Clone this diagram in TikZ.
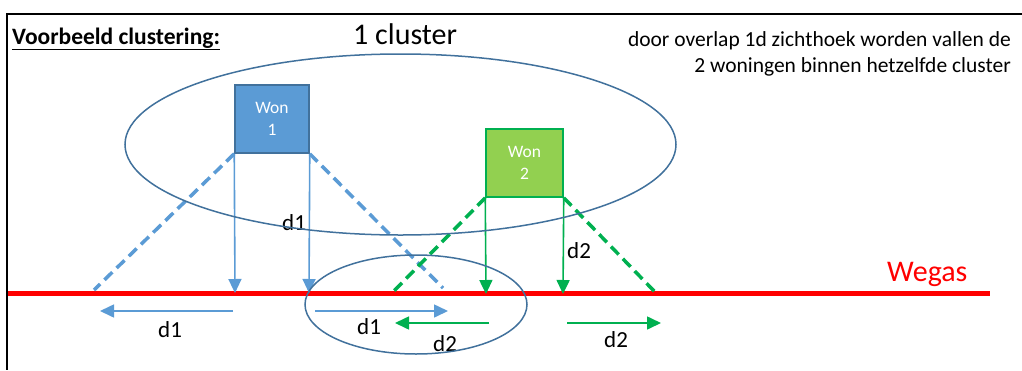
\documentclass[tikz,border=0pt]{standalone}
\usepackage{fontspec}
\setmainfont{Carlito}
\usepackage{xcolor}
\usetikzlibrary{arrows.meta,shapes}
\definecolor{wonblue}{HTML}{5B9BD5}
\definecolor{wonblueline}{HTML}{41719C}
\definecolor{wongreen}{HTML}{92D050}
\definecolor{greenline}{HTML}{00B050}
\definecolor{clusterblue}{HTML}{41719C}
\tikzstyle{won1}		=[rectangle, draw=wonblueline, line width=1.5pt, fill=wonblue, minimum width=74pt, minimum height=68pt, inner sep=0pt, text=white, align=center, font=\fontsize{17.5}{22}\selectfont]
\tikzstyle{won2}		=[rectangle, draw=greenline, line width=1.5pt, fill=wongreen, minimum width=77pt, minimum height=68pt, inner sep=0pt, text=white, align=center, font=\fontsize{17.5}{22}\selectfont]
\tikzstyle{cluster}		=[ellipse, draw=clusterblue, line width=1.5pt, inner sep=0pt]
\tikzstyle{foot}		=[coordinate]
\tikzstyle{txt}			=[anchor=base west, inner sep=0pt]
\tikzstyle{dlab}		=[txt, font=\fontsize{23}{27}\selectfont]
\tikzstyle{road}		=[draw, line width=5pt, red]
\tikzstyle{edgeB}		=[draw, line width=1.6pt, wonblue, -{Triangle[length=14pt,width=13pt]}]
\tikzstyle{edgeG}		=[draw, line width=1.6pt, greenline, -{Triangle[length=14pt,width=13pt]}]
\tikzstyle{sightB}		=[draw, line width=3.5pt, wonblue, dash pattern=on 11pt off 6pt]
\tikzstyle{sightG}		=[draw, line width=3.5pt, greenline, dash pattern=on 11pt off 6pt]
\begin{document}
\begin{tikzpicture}[x=1pt, y=-1pt]
   		\useasboundingbox (0,0) rectangle (1022,370);
   		\draw[line width=2pt] (1022,14) -- (7,14) -- (7,370);
   		
   		%%%%% Texts
   		\node[txt, font=\fontsize{23.5}{27}\selectfont\bfseries] (title) at (12,44) {\underline{Voorbeeld clustering:}};
   		\node[txt, font=\fontsize{30}{34}\selectfont] (clname) at (353,44) {1 cluster};
   		\node[txt, anchor=base east, font=\fontsize{21.5}{26}\selectfont] (note1) at (1011,46) {door overlap 1d zichthoek worden vallen de};
   		\node[txt, anchor=base east, font=\fontsize{21.5}{26}\selectfont] (note2) at (1011,72) {2 woningen binnen hetzelfde cluster};
   		\node[txt, text=red, font=\fontsize{30}{34}\selectfont] (wegas) at (887,281) {Wegas};
   		
   		%%%%% Road
   		\node[foot] (roadW) at (8,293) {};
   		\node[foot] (roadE) at (990,293) {};
   		\path[road] (roadW) -- (roadE);
   		
   		%%%%% Houses
   		\node[won1] (won1) at (272,119) {Won\\1};
   		\node[won2] (won2) at (524.5,163) {Won\\2};
   		
   		%%%% feet on the road
   		\foreach \pos/\name in {{(235,293)/b1}, {(309,293)/b2}, {(94,290)/bd1}, {(443,288)/bd2}}
   		\node[foot] (\name) at \pos {};
   		\foreach \pos/\name in {{(486,294)/g1}, {(563,294)/g2}, {(393,292)/gd1}, {(655,292)/gd2}}
   		\node[foot] (\name) at \pos {};
   		
   		%%%% shifts along the road
   		\foreach \pos/\name in {{(233,311)/bl0}, {(100,311)/bl1}, {(315,311)/br0}, {(448,311)/br1}}
   		\node[foot] (\name) at \pos {};
   		\foreach \pos/\name in {{(489,323)/gl0}, {(395,323)/gl1}, {(567,323)/gr0}, {(661,323)/gr1}}
   		\node[foot] (\name) at \pos {};
   		
   		%%%% Sight lines
   		\foreach \source/ \dest in {won1.south west/bd1, won1.south east/bd2}	\path[sightB] (\source) -- (\dest) ;
   		\foreach \source/ \dest in {won2.south west/gd1, won2.south east/gd2}	\path[sightG] (\source) -- (\dest) ;
   		
   		%%%% Distances
   		\foreach \source/ \dest in {won1.south west/b1, won1.south east/b2, bl0/bl1, br0/br1}	\path[edgeB] (\source) -- (\dest) ;
   		\foreach \source/ \dest in {won2.south west/g1, won2.south east/g2, gl0/gl1, gr0/gr1}	\path[edgeG] (\source) -- (\dest) ;
   		
   		\foreach \pos/\name/\lab in {{(282,230)/lb1/d1}, {(158,337)/lb2/d1}, {(357,334)/lb3/d1}, {(567,258)/lg1/d2}, {(433,351)/lg2/d2}, {(604,347)/lg3/d2}}
   		\node[dlab] (\name) at \pos {\lab};
   		
   		%%%%% Clusters
   		\node[cluster, minimum width=551pt, minimum height=181pt] (bigcl) at (400.5,144.5) {};
   		\node[cluster, minimum width=222pt, minimum height=99pt] (smallcl) at (416,304.5) {};
\end{tikzpicture}
\end{document}
